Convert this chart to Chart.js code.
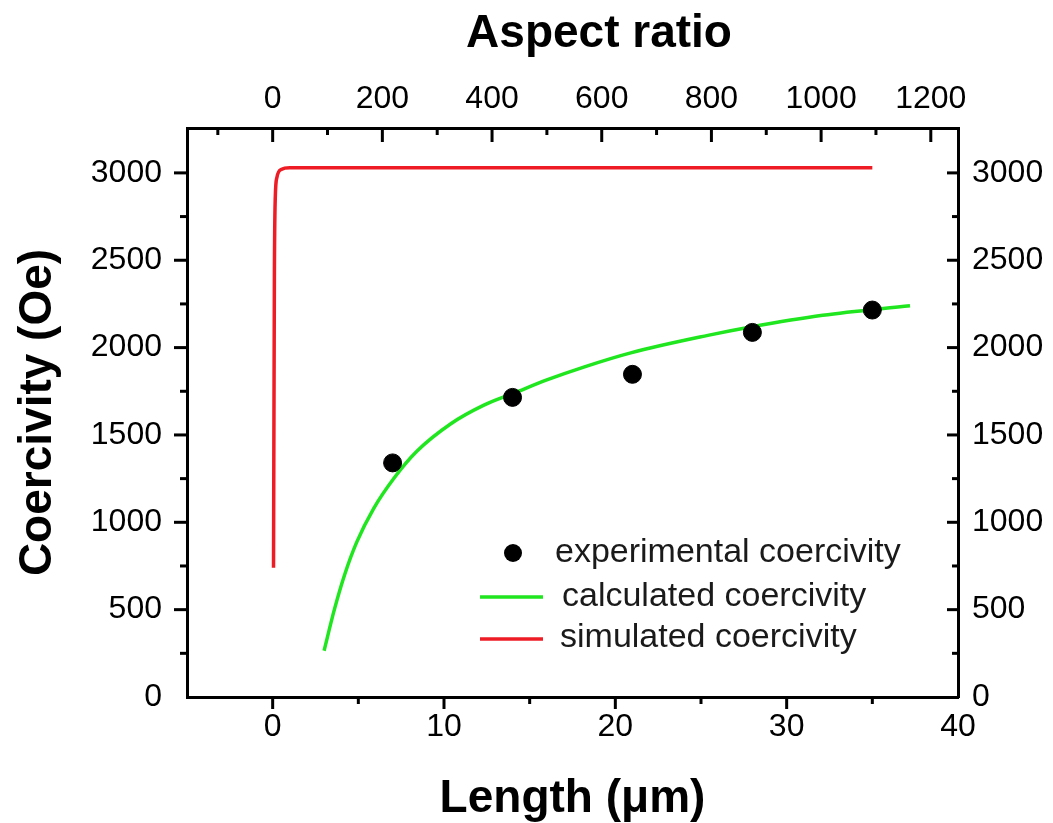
<!DOCTYPE html>
<html>
<head>
<meta charset="utf-8">
<script src="https://cdn.jsdelivr.net/npm/chart.js@4"></script>
<style>
  html, body { margin: 0; padding: 0; background: #ffffff; }
  canvas { display: block; }
</style>
</head>
<body>
<canvas id="chart" width="1053" height="823"></canvas>
<script>
// Measured coercivity of the wires
const expLength = [7, 14, 21, 28, 35];                 // µm
const expCoercivity = [1340, 1715, 1847, 2087, 2215];  // Oe

// Analytical (calculated) coercivity
const calcLength = [3.0, 3.6, 4.2, 4.9, 5.9, 7.1, 8.4, 10.4, 12.3, 14.1, 16.0, 18.2, 20.9, 25.4, 27.9, 32.1, 37.2];
const calcCoercivity = [265, 500, 700, 885, 1080, 1255, 1405, 1564, 1669, 1740, 1815, 1890, 1970, 2070, 2118, 2185, 2240];

// Micromagnetic (simulated) coercivity
const simLength = [0.05, 0.1, 0.15, 0.25, 0.5, 1.0, 35.0];
const simCoercivity = [740, 2400, 2850, 2975, 3020, 3030, 3030];

// Axis ticks
const lengthTicks = [0, 10, 20, 30, 40];
const aspectTicks = [0, 200, 400, 600, 800, 1000, 1200];
const coercivityTicks = [0, 500, 1000, 1500, 2000, 2500, 3000];

const lengthRange = [-5, 40];
const coercivityRange = [0, 3257];
const aspectPerMicron = 31.24; // aspect ratio corresponding to 1 µm of length

const aspectTitle = 'Aspect ratio';

const FONT = "'Liberation Sans', Arial, Helvetica, sans-serif";

const toPoints = (xs, ys) => xs.map((x, i) => ({ x: x, y: ys[i] }));
const fixedTicks = values => scale => { scale.ticks = values.map(v => ({ value: v })); };
const plainNumber = v => String(v);

// Tick marks: major at labelled values, minor half-way between them.
// "out" marks point away from the plot, "in" marks point into it.
const tickStyle = {
  x:  { dir: 'out', major: 12, minor: 7 },
  y:  { dir: 'out', major: 13, minor: 7 },
  x2: { dir: 'in',  major: 14, minor: 7 },
  y2: { dir: 'in',  major: 11, minor: 6 }
};

const frameTicks = {
  id: 'frameTicks',
  afterDraw(chart) {
    const ctx = chart.ctx;
    const area = chart.chartArea;
    ctx.save();
    ctx.strokeStyle = '#000';
    ctx.lineWidth = 3;
    ctx.lineCap = 'butt';
    Object.keys(tickStyle).forEach(id => {
      const scale = chart.scales[id];
      if (!scale) return;
      const st = tickStyle[id];
      const majors = scale.ticks.map(t => t.value);
      const step = majors.length > 1 ? (majors[1] - majors[0]) / 2 : 0;
      const marks = majors.map(v => ({ v: v, len: st.major }));
      if (step) {
        const first = majors[0] - step, last = majors[majors.length - 1] + step;
        for (let v = first; v <= last + 1e-9; v += 2 * step) {
          marks.push({ v: v, len: st.minor });
        }
      }
      marks.forEach(m => {
        const p = scale.getPixelForValue(m.v);
        if (scale.isHorizontal()) {
          if (p < area.left + 4 || p > area.right - 4) return;
          const edge = scale.position === 'top' ? area.top : area.bottom;
          const outward = scale.position === 'top' ? -1 : 1;
          const s = st.dir === 'out' ? outward : -outward;
          ctx.beginPath();
          ctx.moveTo(p, edge);
          ctx.lineTo(p, edge + s * m.len);
          ctx.stroke();
        } else {
          if (p < area.top + 4 || p > area.bottom - 4) return;
          const edge = scale.position === 'left' ? area.left : area.right;
          const outward = scale.position === 'left' ? -1 : 1;
          const s = st.dir === 'out' ? outward : -outward;
          ctx.beginPath();
          ctx.moveTo(edge, p);
          ctx.lineTo(edge + s * m.len, p);
          ctx.stroke();
        }
      });
    });

    // Title of the upper (aspect ratio) axis
    ctx.fillStyle = '#000';
    ctx.font = 'bold 46px ' + FONT;
    ctx.textAlign = 'center';
    ctx.textBaseline = 'middle';
    ctx.fillText(aspectTitle, 599, 34);
    ctx.restore();
  }
};

// Legend drawn inside the plot, one row per dataset
const legendRows = [
  { symbolY: 553, textX: 555, textY: 562 },
  { symbolY: 597, textX: 562, textY: 606 },
  { symbolY: 639, textX: 560, textY: 647 }
];
const insideLegend = {
  id: 'insideLegend',
  afterDraw(chart) {
    const ctx = chart.ctx;
    ctx.save();
    chart.data.datasets.forEach((ds, i) => {
      const row = legendRows[i];
      if (ds.showLine) {
        ctx.strokeStyle = ds.borderColor;
        ctx.lineWidth = ds.borderWidth;
        ctx.beginPath();
        ctx.moveTo(480, row.symbolY);
        ctx.lineTo(543, row.symbolY);
        ctx.stroke();
      } else {
        ctx.fillStyle = ds.backgroundColor;
        ctx.beginPath();
        ctx.arc(513, row.symbolY, ds.pointRadius, 0, Math.PI * 2);
        ctx.fill();
      }
      ctx.fillStyle = '#1a1a1a';
      ctx.font = '34px ' + FONT;
      ctx.textBaseline = 'alphabetic';
      ctx.textAlign = 'left';
      ctx.fillText(ds.label, row.textX, row.textY);
    });
    ctx.restore();
  }
};

const tickFont = { family: FONT, size: 32 };
const titleFont = { family: FONT, size: 46, weight: 'bold', lineHeight: 1 };
const borderStyle = { display: true, color: '#000', width: 3 };
const noGrid = { display: false, drawTicks: false };

new Chart(document.getElementById('chart'), {
  type: 'scatter',
  data: {
    datasets: [
      {
        label: 'experimental coercivity',
        data: toPoints(expLength, expCoercivity),
        backgroundColor: '#000000',
        borderColor: '#000000',
        pointRadius: 9,
        pointHoverRadius: 9,
        showLine: false,
        order: 0
      },
      {
        label: 'calculated coercivity',
        data: toPoints(calcLength, calcCoercivity),
        borderColor: '#1fe61f',
        backgroundColor: '#1fe61f',
        borderWidth: 3.5,
        pointRadius: 0,
        showLine: true,
        cubicInterpolationMode: 'monotone',
        order: 1
      },
      {
        label: 'simulated coercivity',
        data: toPoints(simLength, simCoercivity),
        borderColor: '#ee1c25',
        backgroundColor: '#ee1c25',
        borderWidth: 3.5,
        pointRadius: 0,
        showLine: true,
        cubicInterpolationMode: 'monotone',
        order: 2
      }
    ]
  },
  options: {
    responsive: false,
    animation: false,
    devicePixelRatio: 1,
    layout: { padding: 0 },
    plugins: {
      legend: { display: false },
      tooltip: { enabled: false }
    },
    scales: {
      x: {
        type: 'linear',
        position: 'bottom',
        min: lengthRange[0],
        max: lengthRange[1],
        afterBuildTicks: fixedTicks(lengthTicks),
        afterFit: s => { s.height = 126; },
        grid: noGrid,
        border: borderStyle,
        ticks: { color: '#000', font: tickFont, padding: 11, maxRotation: 0, callback: plainNumber },
        title: { display: true, text: 'Length (μm)', color: '#000', font: titleFont, padding: { top: 0, bottom: 1 } }
      },
      x2: {
        type: 'linear',
        position: 'top',
        min: lengthRange[0] * aspectPerMicron,
        max: lengthRange[1] * aspectPerMicron,
        afterBuildTicks: fixedTicks(aspectTicks),
        afterFit: s => { s.height = 128; },
        grid: noGrid,
        border: borderStyle,
        ticks: { color: '#000', font: tickFont, padding: 10, maxRotation: 0, callback: plainNumber }
      },
      y: {
        type: 'linear',
        position: 'left',
        min: coercivityRange[0],
        max: coercivityRange[1],
        afterBuildTicks: fixedTicks(coercivityTicks),
        afterFit: s => { s.width = 187; },
        grid: noGrid,
        border: borderStyle,
        ticks: { color: '#000', font: tickFont, padding: 25, callback: plainNumber },
        title: { display: true, text: 'Coercivity (Oe)', color: '#000', font: titleFont, padding: { top: 15, bottom: 0 } }
      },
      y2: {
        type: 'linear',
        position: 'right',
        min: coercivityRange[0],
        max: coercivityRange[1],
        afterBuildTicks: fixedTicks(coercivityTicks),
        afterFit: s => { s.width = 95; },
        grid: noGrid,
        border: borderStyle,
        ticks: { color: '#000', font: tickFont, padding: 14, callback: plainNumber }
      }
    }
  },
  plugins: [frameTicks, insideLegend]
});
</script>
</body>
</html>
